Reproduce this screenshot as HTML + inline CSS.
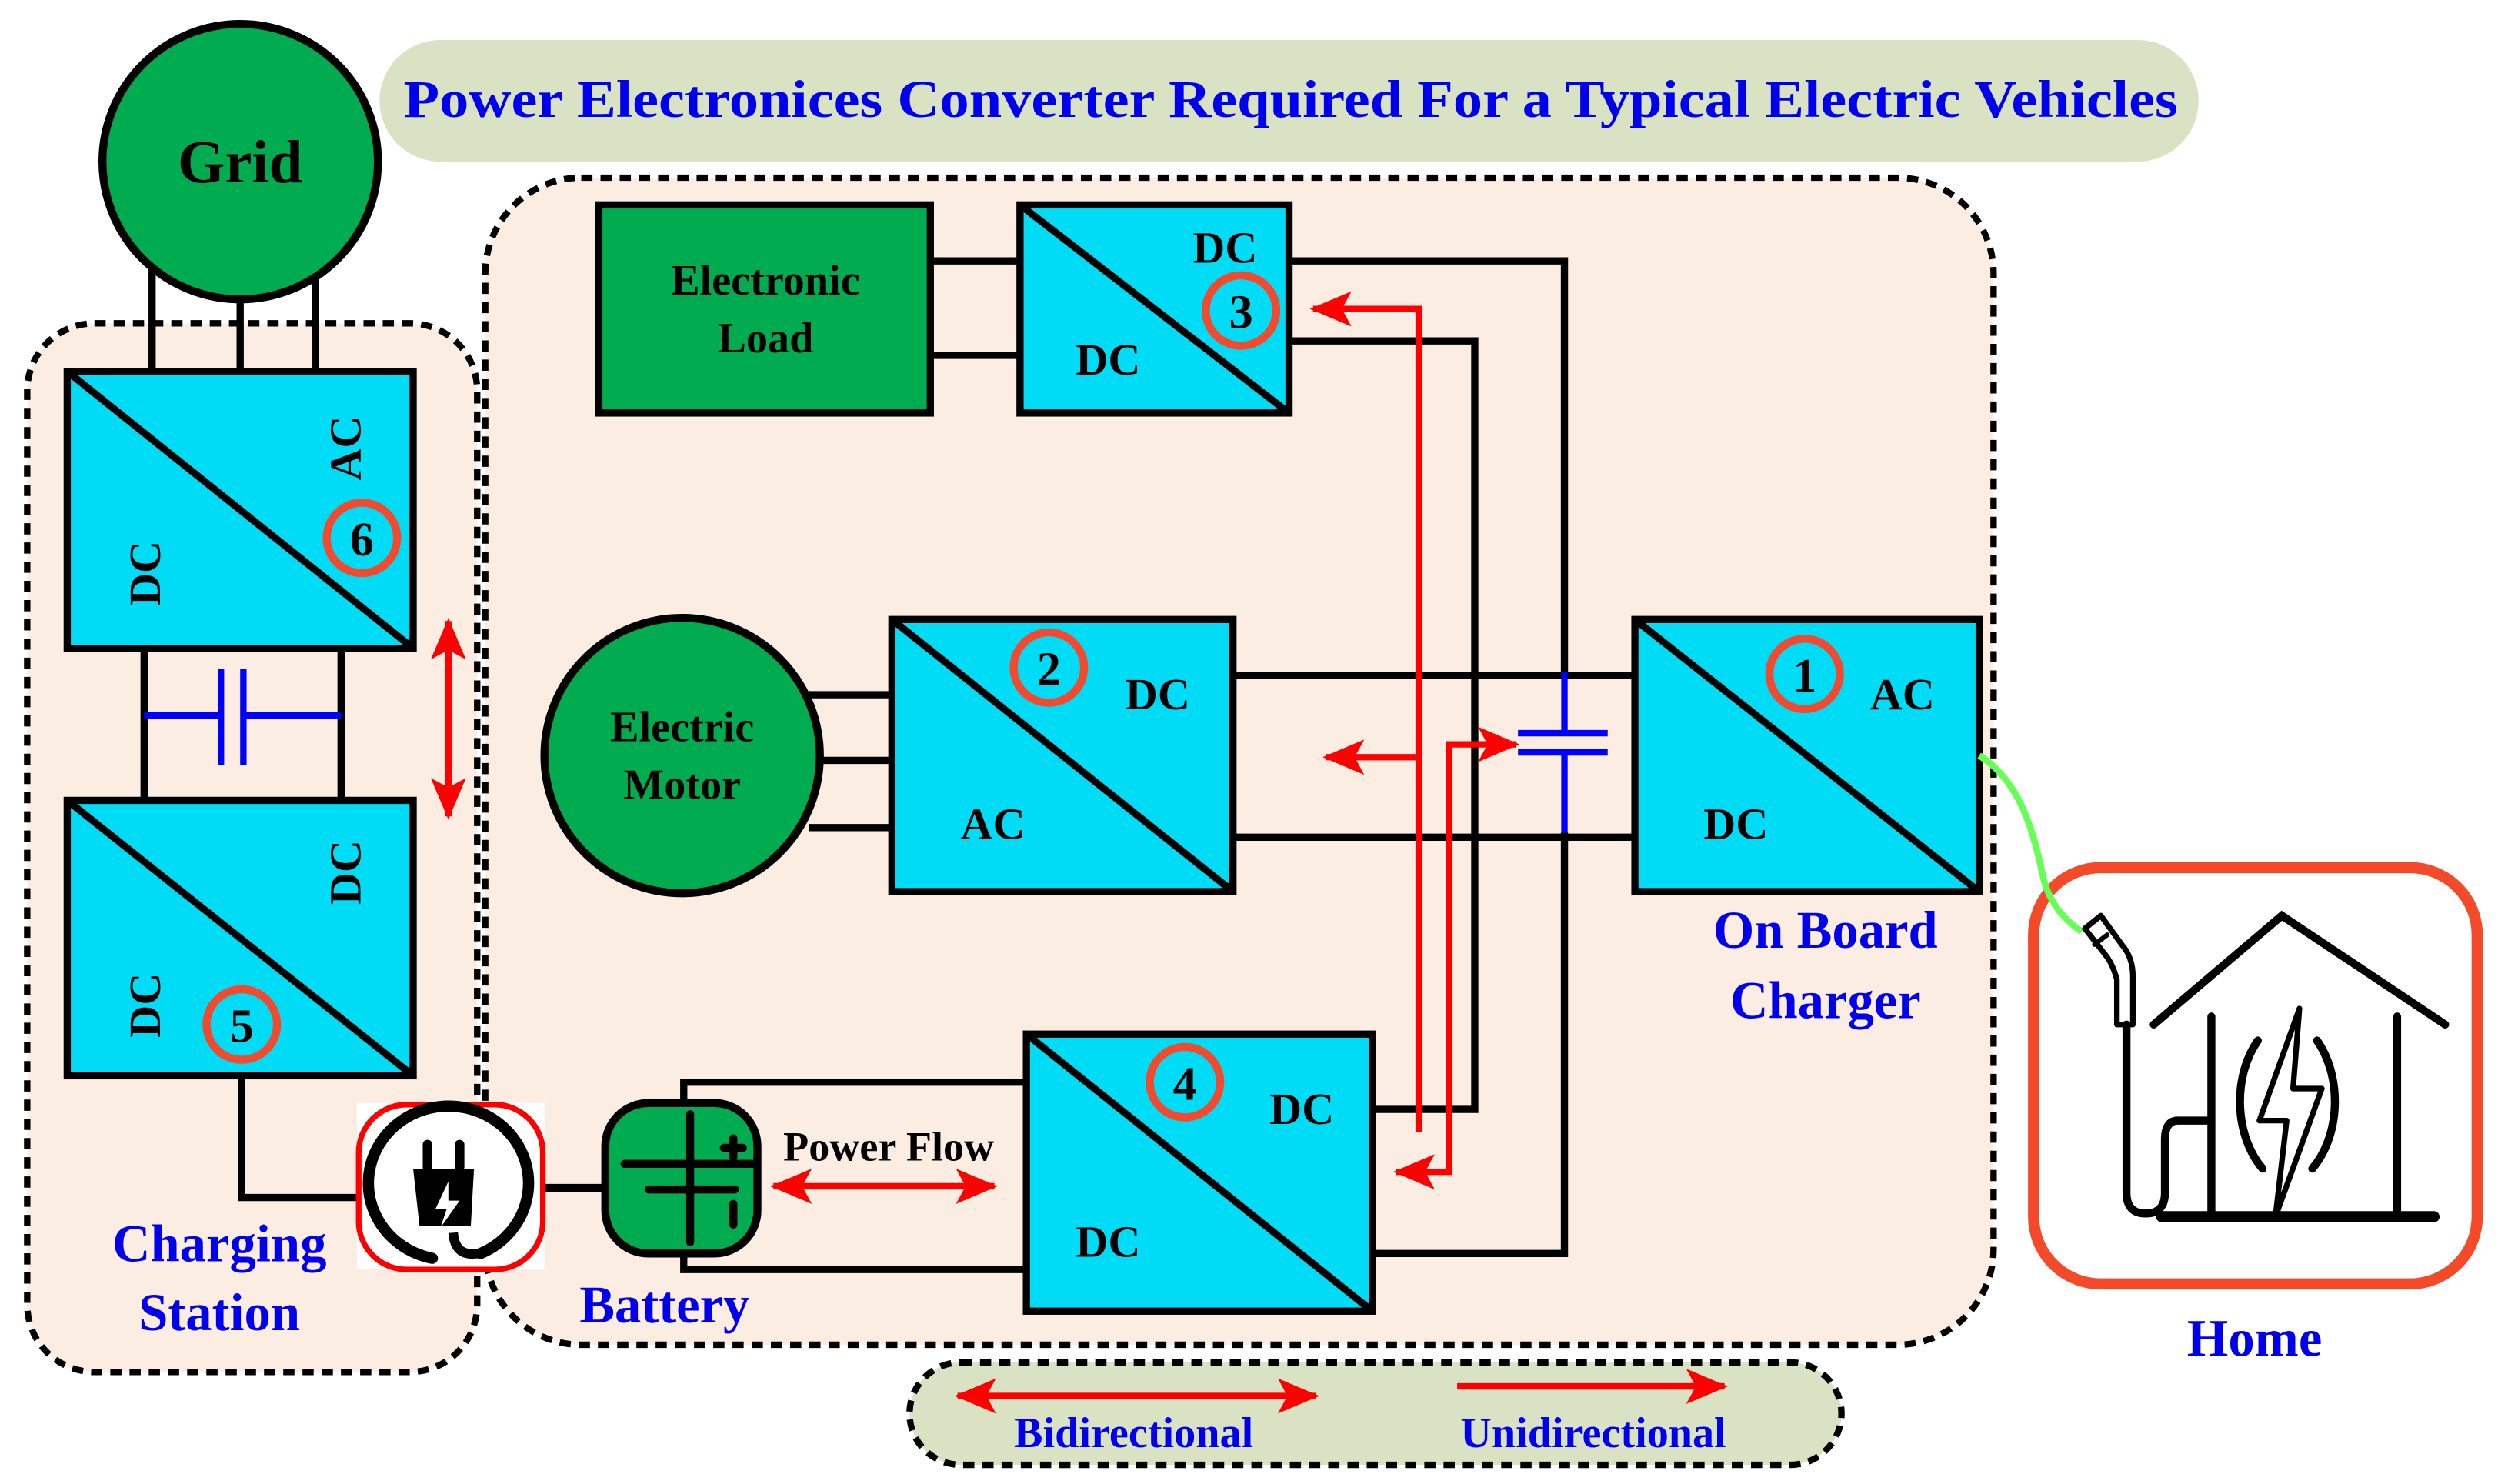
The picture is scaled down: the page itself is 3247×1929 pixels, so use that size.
<!DOCTYPE html>
<html><head><meta charset="utf-8"><style>
html,body{margin:0;padding:0;background:#fff;}
svg{display:block;}
text{font-family:"Liberation Serif",serif;font-weight:bold;}
</style></head><body>
<svg width="3247" height="1929" viewBox="0 0 1560 927" preserveAspectRatio="none" xmlns="http://www.w3.org/2000/svg">
<defs>
<marker id="ah" viewBox="0 0 26 22" refX="24" refY="11" markerWidth="26" markerHeight="22" markerUnits="userSpaceOnUse" orient="auto-start-reverse">
<path d="M0,0 L26,11 L0,22 L6,11 Z" fill="#ff0000"/>
</marker>
</defs>
<rect x="237" y="25" width="1136" height="76" rx="38" fill="#d9e2c3"/>
<text x="806" y="73" font-size="33" fill="#0000ee" text-anchor="middle" textLength="1108" lengthAdjust="spacingAndGlyphs">Power Electronices Converter Required For a Typical Electric Vehicles</text>

<rect x="17" y="202" width="281" height="655" rx="42" fill="#fbede2" stroke="#000" stroke-width="4" stroke-dasharray="7,5"/>
<rect x="303" y="111" width="942" height="729" rx="60" fill="#fbede2" stroke="#000" stroke-width="4" stroke-dasharray="7,5"/>

<g stroke="#000" stroke-width="4.5" fill="none">
<line x1="95" y1="165" x2="95" y2="232"/><line x1="150" y1="180" x2="150" y2="232"/><line x1="197" y1="165" x2="197" y2="232"/>
<line x1="90" y1="405" x2="90" y2="500"/><line x1="213" y1="405" x2="213" y2="500"/>
<polyline points="151,672 151,748 226,748"/>
<line x1="340" y1="742" x2="380" y2="742" stroke-width="5"/>
<polyline points="427,690 427,676 641,676"/>
<polyline points="427,783 427,793 641,793"/>
<line x1="581" y1="163" x2="637" y2="163"/><line x1="581" y1="222" x2="637" y2="222"/>
<polyline points="805,163 977,163 977,420"/>
<polyline points="977,520 977,783 857,783"/>
<polyline points="805,213 921,213 921,693 857,693"/>
<line x1="505" y1="434" x2="557" y2="434"/><line x1="510" y1="475" x2="557" y2="475"/><line x1="505" y1="517" x2="557" y2="517"/>
<line x1="770" y1="422" x2="1021" y2="422"/><line x1="770" y1="523" x2="1021" y2="523"/>
</g>
<circle cx="150" cy="101" r="86" fill="#00ac4f" stroke="#000" stroke-width="5"/>
<text x="150" y="114" font-size="38" text-anchor="middle" fill="#000">Grid</text>

<g stroke="#0000ff" stroke-width="4" fill="none">
<line x1="90" y1="447" x2="137" y2="447"/><line x1="153" y1="447" x2="213" y2="447"/>
<line x1="138" y1="418" x2="138" y2="478"/><line x1="152" y1="418" x2="152" y2="478"/>
<line x1="977" y1="420" x2="977" y2="458"/><line x1="977" y1="470" x2="977" y2="520"/>
<line x1="948" y1="458" x2="1004" y2="458"/><line x1="948" y1="470" x2="1004" y2="470"/>
</g>

<g stroke="#000" stroke-width="4.5" fill="#00dcf5">
<rect x="42" y="232" width="216" height="173"/><line x1="42" y1="232" x2="258" y2="405"/>
<rect x="42" y="500" width="216" height="172"/><line x1="42" y1="500" x2="258" y2="672"/>
<rect x="637" y="128" width="168" height="130"/><line x1="637" y1="128" x2="805" y2="258"/>
<rect x="557" y="387" width="213" height="170"/><line x1="557" y1="387" x2="770" y2="557"/>
<rect x="1021" y="387" width="215" height="170"/><line x1="1021" y1="387" x2="1236" y2="557"/>
<rect x="641" y="646" width="216" height="173"/><line x1="641" y1="646" x2="857" y2="819"/>
</g>
<g font-size="28" fill="#000">
<text transform="translate(225,280) rotate(-90)" text-anchor="middle">AC</text>
<text transform="translate(100,358) rotate(-90)" text-anchor="middle">DC</text>
<text transform="translate(225,545) rotate(-90)" text-anchor="middle">DC</text>
<text transform="translate(100,628) rotate(-90)" text-anchor="middle">DC</text>
<text x="765" y="164" text-anchor="middle">DC</text>
<text x="692" y="234" text-anchor="middle">DC</text>
<text x="723" y="443" text-anchor="middle">DC</text>
<text x="620" y="524" text-anchor="middle">AC</text>
<text x="1188" y="443" text-anchor="middle">AC</text>
<text x="1084" y="524" text-anchor="middle">DC</text>
<text x="813" y="702" text-anchor="middle">DC</text>
<text x="692" y="785" text-anchor="middle">DC</text>
</g>
<g fill="none" stroke="#f24a2e" stroke-width="5">
<circle cx="226" cy="336" r="22"/><circle cx="151" cy="640" r="22"/><circle cx="775" cy="194" r="22"/>
<circle cx="655" cy="417" r="22"/><circle cx="1127" cy="421" r="22"/><circle cx="740" cy="676" r="22"/>
</g>
<g font-size="30" fill="#000" text-anchor="middle">
<text x="226" y="347">6</text><text x="151" y="651">5</text><text x="775" y="205">3</text>
<text x="655" y="428">2</text><text x="1127" y="432">1</text><text x="740" y="687">4</text>
</g>

<rect x="374" y="128" width="207" height="130" fill="#00ac4f" stroke="#000" stroke-width="4.5"/>
<text x="478" y="184" font-size="27" text-anchor="middle">Electronic</text>
<text x="478" y="220" font-size="27" text-anchor="middle">Load</text>
<circle cx="426" cy="472" r="86" fill="#00ac4f" stroke="#000" stroke-width="5"/>
<text x="426" y="463" font-size="27" text-anchor="middle">Electric</text>
<text x="426" y="499" font-size="27" text-anchor="middle">Motor</text>

<g stroke="#ff0000" stroke-width="4" fill="none">
<line x1="280" y1="388" x2="280" y2="510" marker-start="url(#ah)" marker-end="url(#ah)"/>
<polyline points="886,707 886,193 820,193" marker-end="url(#ah)"/>
<line x1="886" y1="473" x2="828" y2="473" marker-end="url(#ah)"/>
<polyline points="872,732 905,732 905,465 947,465" marker-start="url(#ah)" marker-end="url(#ah)"/>
<line x1="483" y1="741" x2="621" y2="741" marker-start="url(#ah)" marker-end="url(#ah)"/>
</g>

<rect x="223" y="689" width="117" height="104" fill="#fff"/>
<rect x="224" y="690" width="115" height="103" rx="30" fill="none" stroke="#ff0000" stroke-width="3.5"/>
<path d="M270,786 A50,48 0 1 1 300,783" fill="none" stroke="#000" stroke-width="7" stroke-linecap="round"/>
<path d="M283,770 Q284,785 298,783" fill="none" stroke="#000" stroke-width="6"/>
<rect x="264" y="712" width="6" height="20" rx="3" fill="#000"/><rect x="284" y="712" width="6" height="20" rx="3" fill="#000"/>
<path d="M258,730 L296,730 L294,766 L262,766 Z" fill="#000"/>
<path d="M280,738 L272,755 L279,755 L275,767 L287,750 L280,750 Z" fill="#fff"/>

<rect x="378" y="689" width="95" height="94" rx="27" fill="#00ac4f" stroke="#000" stroke-width="5"/>
<g stroke="#000" stroke-width="5" stroke-linecap="round">
<line x1="431" y1="696" x2="431" y2="776"/>
<line x1="390" y1="727" x2="470" y2="727"/><line x1="405" y1="743" x2="459" y2="743"/>
<line x1="458" y1="752" x2="458" y2="765"/>
<line x1="452" y1="717" x2="464" y2="717"/><line x1="458" y1="711" x2="458" y2="723"/>
</g>

<text x="555" y="725" font-size="26" text-anchor="middle" fill="#000">Power Flow</text>
<g fill="#0000ee" text-anchor="middle" font-size="33">
<text x="415" y="826">Battery</text>
<text x="137" y="788">Charging</text>
<text x="137" y="831">Station</text>
<text x="1140" y="592">On Board</text>
<text x="1140" y="636">Charger</text>
<text x="1408" y="847">Home</text>
</g>

<path d="M1236,472 C1262,488 1270,520 1276,548 C1280,565 1290,575 1300,582" fill="none" stroke="#66ff55" stroke-width="4"/>
<rect x="1270" y="542" width="277" height="260" rx="42" fill="#fff" stroke="#f44a2a" stroke-width="7"/>
<path d="M1236,472 C1262,488 1270,520 1276,548" fill="none" stroke="#66ff55" stroke-width="4"/>
<path d="M1276,548 C1280,565 1290,575 1300,582" fill="none" stroke="#66ff55" stroke-width="4"/>
<g stroke="#000" stroke-width="5" fill="none" stroke-linecap="round">
<polyline points="1345,640 1425,572 1527,640"/>
<line x1="1350" y1="760" x2="1520" y2="760" stroke-width="7"/>
<line x1="1381" y1="635" x2="1381" y2="758"/><line x1="1497" y1="635" x2="1497" y2="758"/>
<path d="M1410,650 A40,55 0 0 0 1413,730"/><path d="M1447,650 A40,55 0 0 1 1444,730"/>
<path d="M1436,630 L1411,700 L1428,700 L1421,760 L1450,680 L1432,680 Z" stroke-width="3.5" stroke-linejoin="round"/>
<path d="M1381,700 L1360,700 Q1352,700 1352,712 L1352,745 Q1352,758 1340,758 Q1328,758 1328,745 L1328,640"/>
<path d="M1322,640 L1332,640 L1332,610 Q1332,598 1325,590 L1312,572 L1302,580 L1316,598 Q1320,604 1322,612 Z" stroke-width="3.5" stroke-linejoin="round"/>
<line x1="1308" y1="590" x2="1316" y2="584" stroke-width="3"/>
</g>

<rect x="568" y="851" width="582" height="64" rx="32" fill="#d9e2c3" stroke="#000" stroke-width="4" stroke-dasharray="7,5"/>
<g stroke="#ff0000" stroke-width="4">
<line x1="598" y1="872" x2="822" y2="872" marker-start="url(#ah)" marker-end="url(#ah)"/>
<line x1="910" y1="866" x2="1077" y2="866" marker-end="url(#ah)"/>
</g>
<g fill="#0000ee" font-size="27" text-anchor="middle">
<text x="708" y="904">Bidirectional</text>
<text x="995" y="904">Unidirectional</text>
</g>
</svg>
</body></html>
